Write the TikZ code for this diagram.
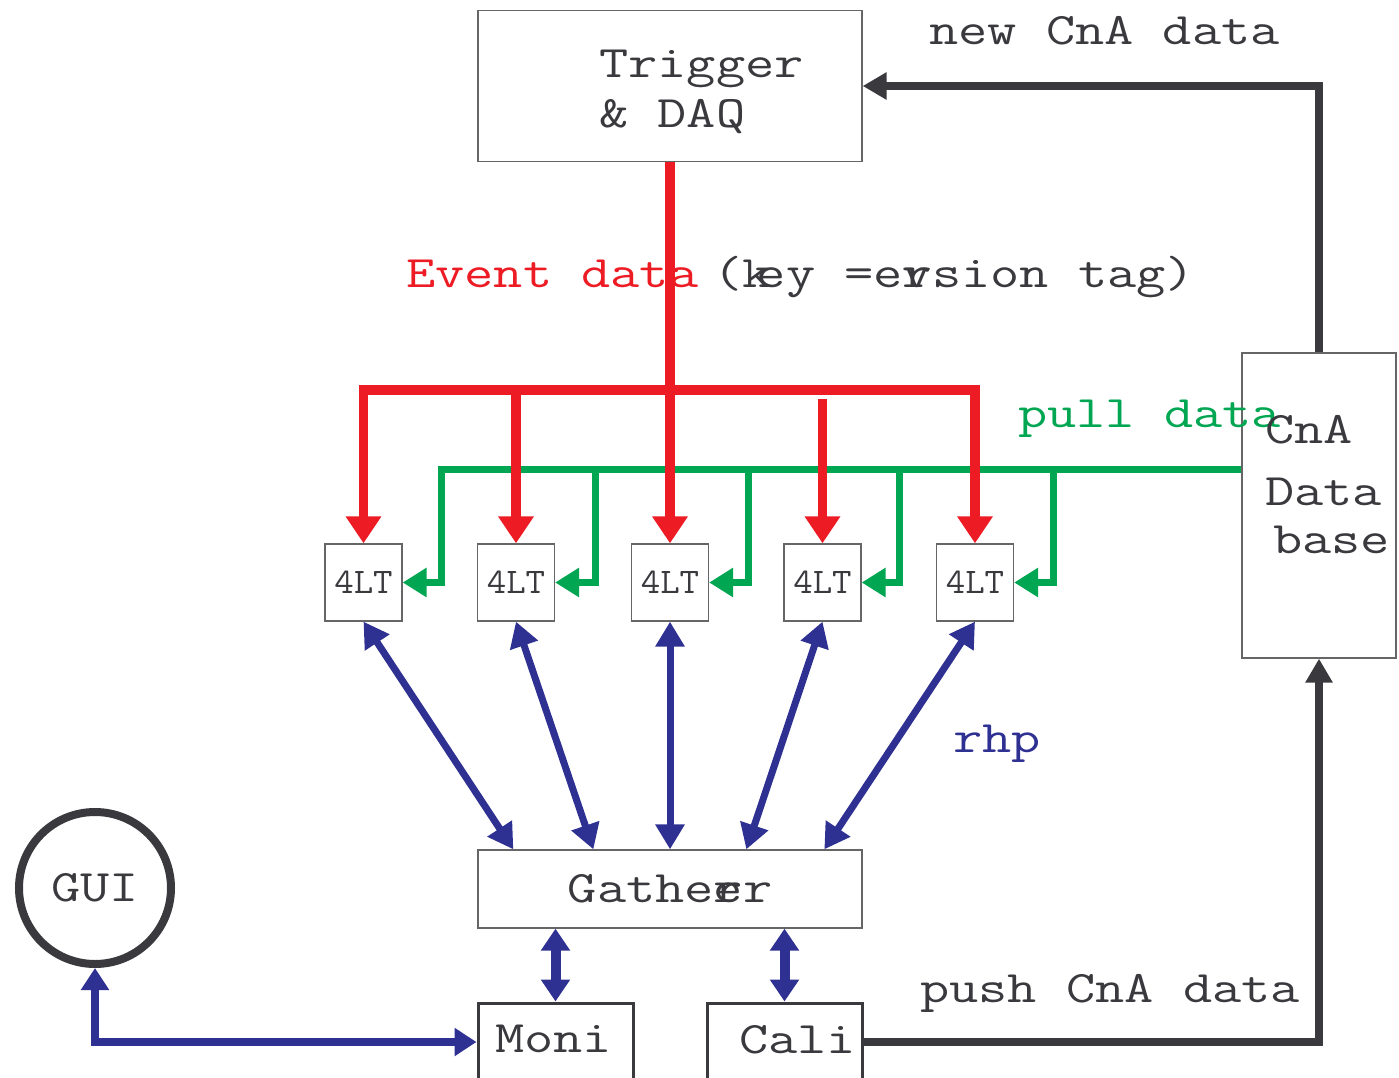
\documentclass[tikz,border=0pt]{standalone}
\usepackage{fontspec}
\usepackage{graphicx}
\usetikzlibrary{arrows.meta}

\definecolor{ink}{HTML}{3A393E}
\definecolor{evred}{HTML}{ED1C24}
\definecolor{pullgreen}{HTML}{00A651}
\definecolor{rhpblue}{HTML}{2E3192}
\definecolor{boxgray}{HTML}{666666}

% wide typewriter lettering used for every label
\newcommand\monotext[2][45]{\scalebox{1.26}[1]{\fontsize{#1}{#1}\selectfont\ttfamily #2}}
\newcommand\smallmono[1]{\scalebox{1.05}[1]{\fontsize{36}{36}\selectfont\ttfamily #1}}

\tikzset{
  every node/.style={inner sep=0pt},
  lbl/.style={anchor=base west, text=ink},
  thinbox/.style={draw=boxgray, line width=1.3pt, rectangle},
  thickbox/.style={draw=ink, line width=3pt, rectangle},
  ltbox/.style={thinbox, minimum width=77pt, minimum height=77pt, text=ink},
  redtip/.tip={Triangle[length=27pt,width=34pt]},
  greentip/.tip={Triangle[length=24pt,width=28pt]},
  bluetip/.tip={Triangle[length=25pt,width=28pt]},
  shorttip/.tip={Triangle[length=22pt,width=28pt]},
  guitip/.tip={Triangle[length=22pt,width=27pt]},
  darktip/.tip={Triangle[length=24pt,width=26pt]},
  redline/.style={draw=evred, line width=9.5pt},
  greenline/.style={draw=pullgreen, line width=7pt, -greentip},
  bluelink/.style={draw=rhpblue, line width=7pt, bluetip-bluetip},
  shortlink/.style={draw=rhpblue, line width=10pt, shorttip-shorttip},
  guilink/.style={draw=rhpblue, line width=8pt, guitip-guitip},
  darkline/.style={draw=ink, line width=8pt, -darktip},
}

\begin{document}
\begin{tikzpicture}[x=1pt,y=-1pt]
\clip (0,0) rectangle (1399,1078);
\useasboundingbox (0,0) rectangle (1399,1078);

% ---- boxes
\node[thinbox, minimum width=384pt, minimum height=151pt] (trig) at (670,86) {};
\node[thinbox, minimum width=154pt, minimum height=305pt] (cna) at (1319,505.5) {};
\node[ltbox] (lt1) at (363.5,582.5) {\smallmono{4LT}};
\node[ltbox] (lt2) at (516,582.5) {\smallmono{4LT}};
\node[ltbox] (lt3) at (670,582.5) {\smallmono{4LT}};
\node[ltbox] (lt4) at (822.5,582.5) {\smallmono{4LT}};
\node[ltbox] (lt5) at (975,582.5) {\smallmono{4LT}};
\node[thinbox, minimum width=384pt, minimum height=78pt, text=ink] (gath) at (670,889) {\monotext{Gathe\rlap{r}er}};
\node[thickbox, minimum width=155pt, minimum height=78pt] (moni) at (555.5,1042) {};
\node[thickbox, minimum width=155pt, minimum height=78pt] (cali) at (784.5,1042) {};
\node[circle, draw=ink, line width=8pt, minimum size=152pt, text=ink] (gui) at (95,888) {\monotext{GUI}};

% ---- labels
\node[lbl] (trigA) at (599,78) {\monotext{Trigger}};
\node[lbl] (trigB) at (599,128) {\monotext{\& DAQ}};
\node[lbl] (newcna) at (929,45) {\monotext{new CnA data}};
\node[lbl, text=evred] (event) at (406,287) {\monotext{Event data}};
\node[lbl] (keytag) at (713,287) {\monotext{(k\kern-.26em ey =e\rlap{v}rsion tag)}};
\node[lbl, text=pullgreen] (pull) at (1018,427) {\monotext{pull data}};
\node[lbl] (cnaA) at (1265,443) {\monotext{CnA}};
\node[lbl] (cnaB) at (1265,505) {\monotext{Data}};
\node[lbl] (cnaC) at (1273,553) {\monotext{base}};
\node[lbl, text=rhpblue] (rhp) at (953,752) {\monotext{rhp}};
\node[lbl] (push) at (920,1002) {\monotext{push CnA data}};
\node[lbl] (monitxt) at (495,1052) {\monotext{Moni}};
\node[lbl] (calitxt) at (739,1053) {\monotext{Cali}};

% ---- pull data bus (green)
\coordinate (gy) at (0,469.5);
\coordinate (g1) at (441,469.5);
\coordinate (g2) at (595,469.5);
\coordinate (g3) at (748.5,469.5);
\coordinate (g4) at (899,469.5);
\coordinate (g5) at (1053.5,469.5);
\draw[greenline] (cna.west |- gy) -- (g1) |- (lt1.east);
\draw[greenline] (g2) |- (lt2.east);
\draw[greenline] (g3) |- (lt3.east);
\draw[greenline] (g4) |- (lt4.east);
\draw[greenline] (g5) |- (lt5.east);

% ---- event data bus (red)
\coordinate (ry) at (0,390);
\coordinate (r4) at (0,399);
\draw[redline, redtip-redtip] (lt1.north) -- (lt1.north |- ry) -- (lt5.north |- ry) -- (lt5.north);
\draw[redline, -redtip] (trig.south) -- (lt3.north);
\draw[redline, -redtip] (lt2.north |- ry) -- (lt2.north);
\draw[redline, -redtip] (lt4.north |- r4) -- (lt4.north);

% ---- readout links to the gatherer (blue)
\draw[bluelink] (lt1.south) -- ([xshift=36pt]gath.north west);
\draw[bluelink] (lt2.south) -- ([xshift=116pt]gath.north west);
\draw[bluelink] (lt3.south) -- (gath.north);
\draw[bluelink] (lt4.south) -- ([xshift=269pt]gath.north west);
\draw[bluelink] (lt5.south) -- ([xshift=347pt]gath.north west);
\draw[shortlink] (moni.north |- gath.south) -- (moni.north);
\draw[shortlink] (cali.north |- gath.south) -- (cali.north);
\draw[guilink] (gui.south) |- (moni.west);

% ---- calibration data flow (dark)
\draw[darkline] (cali.east) -| (cna.south);
\draw[darkline] (cna.north) |- (trig.east);
\end{tikzpicture}
\end{document}
